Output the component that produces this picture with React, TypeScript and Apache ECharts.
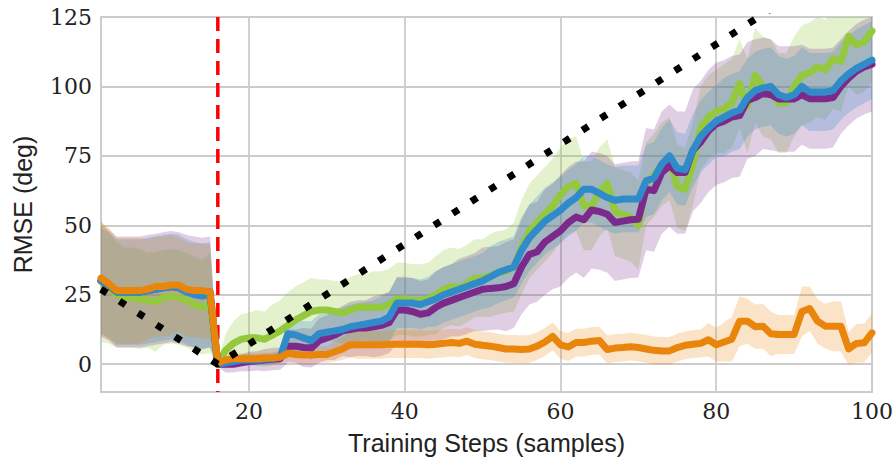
import React, { useEffect, useRef } from "react";
import * as echarts from "echarts";

// x positions (training steps)
const steps: number[] = Array.from({ length: 100 }, (_, i) => i + 1);

const xTicks = [20, 40, 60, 80, 100];
const yTicks = [0, 25, 50, 75, 100, 125];

// mean RMSE curves
const greenMean = [
  30, 27.5, 25, 24, 24, 23.5, 23, 22.5, 24, 24.5,
  24, 23, 21.5, 20.5, 22, 0, 5, 7.5, 9, 9.5,
  9.5, 9, 10.5, 12, 14, 16, 17.5, 19, 19.5, 19.5,
  19, 18.5, 19.5, 20.5, 20.5, 20.5, 20.5, 21.5, 23.5, 23.5,
  23, 23, 23.5, 25, 27, 28, 27.5, 29, 31, 31,
  32, 33, 33.5, 35, 42, 48, 51, 54, 57, 61,
  64, 65, 57, 57, 62, 65, 55, 54, 53, 50,
  65, 68, 72, 74, 64, 63, 72, 85, 89, 91,
  92, 94, 101, 93, 104, 100, 99, 94, 94, 100,
  104, 105, 107, 106, 110, 109, 118, 115, 116, 120,
];
const purpleMean = [
  30, 28.5, 26, 26, 26, 26, 26.5, 27, 27.5, 28,
  27.5, 26.5, 26, 25.5, 26, 0, 0, 0, 0.5, 1,
  1.2, 1.5, 1.8, 2, 6.5, 6.5, 6, 5.8, 8.5, 9.5,
  10.5, 12, 12.5, 13, 13, 13.5, 14, 15, 19.5, 19.5,
  19, 18, 18.5, 20.5, 22, 23, 24, 25, 26, 27,
  27.3, 27.5, 28, 29, 35, 39.5, 40.5, 44, 46, 48,
  51, 53, 52, 55.5, 55, 54, 51, 51.5, 52, 52.2,
  63, 62.5, 69, 71.5, 69, 69, 77, 80, 84, 86.5,
  87.5, 89, 89.5, 95, 96, 97.5, 97, 95.5, 95.5, 95.5,
  97, 95.6, 95.6, 95.6, 96, 100, 103, 105.5, 107, 108,
];
const blueMean = [
  30, 28.5, 26, 26, 26, 26, 26.5, 27, 27.5, 28,
  27.5, 26, 25, 24.5, 25, 0, 0.5, 1, 1.5, 1.5,
  1.5, 1.8, 2, 2.5, 11, 10.5, 9.5, 8.5, 11, 11.5,
  12, 12.5, 13.5, 14, 14.5, 15, 15.5, 17, 22, 22,
  22, 21.5, 22.5, 23.5, 25, 26, 27, 28, 29, 30,
  31.5, 33, 34, 35, 41, 45.5, 48.5, 51.5, 53.5, 55.5,
  58, 60, 63, 63, 61.5, 60, 59, 59.5, 59.5, 59.5,
  66, 67, 72, 75, 70.5, 70, 77, 82, 85, 87.5,
  89, 90.5, 91.5, 96, 98.5, 99.5, 100, 97, 96, 97,
  100, 98, 98, 98, 98.5, 102, 104.5, 106.5, 108, 109.5,
];
const orangeMean = [
  31, 29, 26.5, 26.5, 26.5, 26.5, 27, 28, 28, 28.5,
  28.5, 27, 26.5, 26.5, 26, 0.5, 1.5, 2, 2, 2,
  2, 2.2, 2.2, 2.5, 4, 3.5, 3.3, 3.3, 3.5, 3.5,
  4.5, 5.5, 7, 7, 7, 7, 7, 7.2, 7.2, 7.2,
  7.2, 7.2, 7, 7.2, 7.5, 7.8, 7.5, 8.3, 7.2, 6.8,
  6.5, 6, 5.5, 5.5, 5.3, 5.5, 6.5, 8, 10, 7,
  6.2, 7.8, 7.8, 8.3, 8.5, 5.3, 5.8, 6, 6.3, 6,
  5.5, 5, 4.8, 4.8, 6, 6.8, 7.2, 7.5, 8.8, 7,
  8, 9, 15.5, 15.5, 13.5, 13.7, 11, 10.7, 10.7, 10.7,
  19, 20, 15.5, 13.7, 13.7, 13.7, 5.5, 7.5, 7.7, 11.3,
];

// half-widths of the shaded bands
const greenStd = [
  22, 20, 19, 18, 18, 18, 17, 18, 17, 17,
  17, 17, 17, 17, 18, 1, 6, 8, 9, 9,
  10, 10, 11, 11, 12, 12, 12, 12, 11, 11,
  11, 11, 12, 12, 12, 13, 13, 13, 13, 13,
  13, 13, 13, 14, 14, 14, 14, 14, 14, 14,
  15, 15, 15, 16, 17, 17, 17, 17, 17, 17,
  17, 17, 16, 16, 16, 16, 16, 16, 16, 16,
  15, 15, 15, 15, 15, 15, 15, 15, 15, 15,
  16, 16, 16, 17, 17, 18, 18, 18, 18, 18,
  18, 18, 18, 18, 18, 18, 18, 18, 18, 18,
];
const purpleStd = [
  20, 20, 20, 20, 20, 20, 20, 20, 20, 20,
  20, 20, 20, 20, 20, 1, 3, 3, 3, 3.5,
  3.5, 4, 4, 4, 6, 6, 7, 7, 8, 8,
  9, 9, 10, 10, 10, 11, 11, 11, 12, 12,
  12, 12, 12, 13, 13, 13, 14, 14, 14, 15,
  15, 15, 16, 16, 17, 18, 18, 19, 19, 20,
  20, 20, 21, 21, 21, 21, 21, 21, 21, 21,
  22, 22, 22, 22, 22, 22, 22, 22, 22, 22,
  22, 22, 22, 21, 21, 20, 20, 19, 19, 19,
  18, 18, 18, 18, 18, 17, 17, 17, 17, 17,
];
const blueStd = [
  19, 19, 19, 19, 19, 19, 19, 19, 19, 19,
  19, 19, 19, 19, 19, 1, 2, 2, 2, 2,
  2, 2, 2, 2, 6, 6, 6, 7, 7, 7,
  7, 8, 8, 8, 8, 8, 9, 9, 9, 9,
  9, 9, 9, 10, 10, 10, 10, 10, 10, 10,
  11, 11, 11, 11, 12, 12, 12, 12, 12, 12,
  12, 12, 12, 12, 12, 12, 12, 12, 12, 12,
  13, 13, 13, 13, 13, 13, 13, 13, 13, 13,
  14, 14, 14, 14, 14, 14, 14, 14, 14, 14,
  14, 14, 14, 14, 14, 14, 14, 14, 14, 14,
];
const orangeStd = [
  20, 20, 19, 19, 19, 19, 18, 18, 18, 18,
  17, 17, 17, 17, 17, 1, 2, 2, 2, 2,
  2, 2, 2, 2.5, 3, 3, 3, 3, 3, 3,
  3.5, 4, 4.5, 5, 5, 5, 5, 5, 5, 5,
  5, 5, 5, 5, 5, 5, 5, 5, 5, 5,
  5, 5, 5, 5, 5, 5, 5, 5, 5, 5,
  5, 5, 5, 5, 5, 5, 5, 5, 5, 5,
  5, 5, 5, 5, 5, 5, 5, 5, 6, 6,
  7, 8, 9, 8, 8, 8, 8, 7, 7, 7,
  9, 8, 8, 8, 9, 9, 6, 7, 7, 7,
];

// reference lines
const refX = [1, 16, 100];
const refY = [27, 0, 151.2];
const switchX = [16, 16];
const switchY = [125, -10];

const GREEN = "#94c83d";
const PURPLE = "#7b2a8c";
const BLUE = "#2f8bc9";
const ORANGE = "#e8850a";

const SANS = "Liberation Sans";
const SERIF = "DejaVu Serif";

function band(mean: number[], std: number[], fill: string, z: number) {
  return {
    type: "custom",
    coordinateSystem: "cartesian2d",
    clip: true,
    silent: true,
    z,
    data: [[steps[0], mean[0]]],
    renderItem: (params: any, api: any) => {
      const pts: number[][] = [];
      for (let i = 0; i < steps.length; i++) pts.push(api.coord([steps[i], mean[i] + std[i]]));
      for (let i = steps.length - 1; i >= 0; i--) pts.push(api.coord([steps[i], mean[i] - std[i]]));
      const cs = params.coordSys;
      return {
        type: "group",
        clipPath: { type: "rect", shape: { x: cs.x, y: cs.y, width: cs.width, height: cs.height } },
        children: [{ type: "polygon", shape: { points: pts }, style: { fill } }],
      };
    },
  };
}

function meanLine(mean: number[], color: string, z: number) {
  return {
    type: "line",
    data: steps.map((x, i) => [x, mean[i]]),
    showSymbol: false,
    symbol: "none",
    silent: true,
    z,
    lineStyle: { color, width: 7, join: "round", cap: "round" },
  };
}

export default function App() {
  const ref = useRef<HTMLDivElement>(null);
  useEffect(() => {
    document.body.style.margin = "0";
    const chart = echarts.init(ref.current!, undefined, { renderer: "svg" });
    chart.setOption({
      animation: false,
      backgroundColor: "#ffffff",
      grid: {
        left: 101,
        right: 24,
        top: 17,
        bottom: 78,
        show: true,
        borderColor: "#cccccc",
        borderWidth: 2,
        outerBoundsMode: "none",
      },
      xAxis: {
        type: "value",
        min: 1,
        max: 100,
        name: "Training Steps (samples)",
        nameLocation: "middle",
        nameGap: 38,
        nameTextStyle: { fontFamily: SANS, fontSize: 25, color: "#222" },
        axisLine: { show: false },
        axisTick: { show: false, customValues: xTicks },
        axisLabel: {
          customValues: xTicks,
          fontFamily: SERIF,
          fontSize: 22,
          color: "#222",
          margin: 8,
        },
        splitLine: { show: true, lineStyle: { color: "#cccccc", width: 1.8 } },
      },
      yAxis: {
        type: "value",
        min: -10,
        max: 125,
        name: "RMSE (deg)",
        nameLocation: "middle",
        nameGap: 66,
        nameTextStyle: { fontFamily: SANS, fontSize: 25, color: "#222" },
        axisLine: { show: false },
        axisTick: { show: false, customValues: yTicks },
        axisLabel: {
          customValues: yTicks,
          fontFamily: SERIF,
          fontSize: 22,
          color: "#222",
          margin: 9,
        },
        splitLine: { show: true, lineStyle: { color: "#cccccc", width: 1.8 } },
      },
      series: [
        band(greenMean, greenStd, "rgba(148,200,61,0.26)", 1),
        band(purpleMean, purpleStd, "rgba(123,42,140,0.23)", 1),
        band(blueMean, blueStd, "rgba(47,139,201,0.25)", 1),
        band(orangeMean, orangeStd, "rgba(232,133,10,0.23)", 1),
        {
          type: "line",
          data: switchX.map((x, i) => [x, switchY[i]]),
          showSymbol: false,
          symbol: "none",
          silent: true,
          z: 2,
          lineStyle: { color: "#ff0000", width: 3.5, type: [14, 8] },
        },
        meanLine(greenMean, GREEN, 3),
        meanLine(purpleMean, PURPLE, 3),
        meanLine(blueMean, BLUE, 3),
        meanLine(orangeMean, ORANGE, 3),
        {
          type: "line",
          data: refX.map((x, i) => [x, refY[i]]),
          showSymbol: false,
          symbol: "none",
          silent: true,
          z: 4,
          lineStyle: { color: "#000000", width: 7, type: [7, 15], cap: "butt" },
        },
      ],
    });
    return () => chart.dispose();
  }, []);
  return <div ref={ref} style={{ width: 896, height: 470 }} />;
}
